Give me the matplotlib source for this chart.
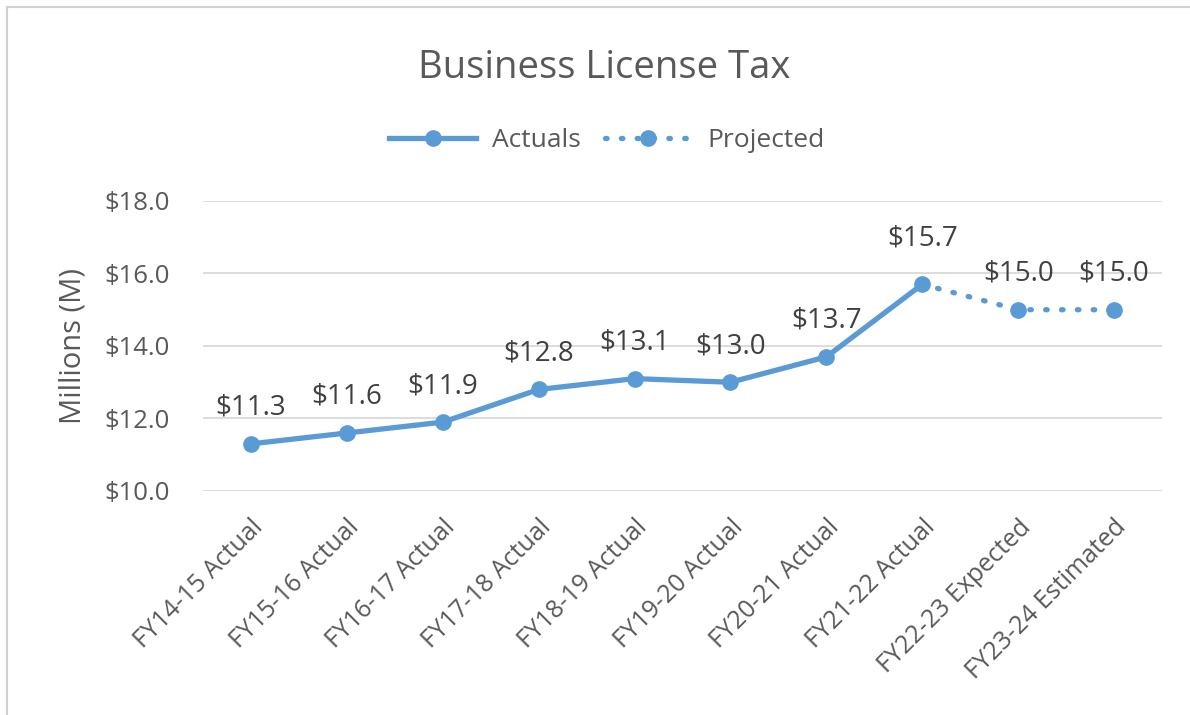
# Business License Tax line chart
import matplotlib.pyplot as plt
import matplotlib.patches as patches
from matplotlib.lines import Line2D

# Data
categories = ["FY14-15 Actual", "FY15-16 Actual", "FY16-17 Actual", "FY17-18 Actual",
              "FY18-19 Actual", "FY19-20 Actual", "FY20-21 Actual", "FY21-22 Actual",
              "FY22-23 Expected", "FY23-24 Estimated"]
actual_values = [11.3, 11.6, 11.9, 12.8, 13.1, 13.0, 13.7, 15.7]
projected_values = [15.7, 15.0, 15.0]
y_ticks = [10.0, 12.0, 14.0, 16.0, 18.0]

blue = "#5B9BD5"
gray = "#595959"
dots = (0, (0.3, 2.7))
plt.rcParams['font.family'] = ['Open Sans', 'DejaVu Sans']

fig = plt.figure(figsize=(11.9, 7.15), dpi=100)
ax = fig.add_axes([0.1706, 0.3133, 0.8059, 0.4056])

x_act = list(range(len(actual_values)))
x_proj = list(range(len(actual_values) - 1, len(categories)))

ax.plot(x_act, actual_values, color=blue, lw=3.8, marker='o', ms=11,
        solid_capstyle='round', zorder=3)
ax.plot(x_proj, projected_values, color=blue, lw=3.8, ls=dots,
        dash_capstyle='round', zorder=2)
ax.plot(x_proj[1:], projected_values[1:], color=blue, lw=0, marker='o', ms=11, zorder=3)

# Data labels
labels_x = x_act + x_proj[1:]
labels_y = actual_values + projected_values[1:]
for i, (xi, yi) in enumerate(zip(labels_x, labels_y)):
    off = 33 if i == 7 else 26
    ax.annotate("$%.1f" % yi, (xi, yi), xytext=(0, off), textcoords='offset points',
                ha='center', va='center', fontsize=20, color='#404040')

ax.set_xlim(-0.5, len(categories) - 0.5)
ax.set_ylim(10, 18)
ax.set_yticks(y_ticks)
ax.set_yticklabels(["$%.1f" % v for v in y_ticks], fontsize=18.5, color=gray)
ax.set_xticks(range(len(categories)))
ax.set_xticklabels(categories, rotation=45, ha='right', rotation_mode='anchor',
                   fontsize=18, color=gray)
ax.tick_params(axis='both', length=0)
ax.tick_params(axis='x', pad=17)
ax.tick_params(axis='y', pad=24)
ax.grid(axis='y', color='#D9D9D9', lw=1.3)
ax.set_axisbelow(True)
for s in ax.spines.values():
    s.set_visible(False)
ax.set_ylabel("Millions (M)", fontsize=21, color=gray, labelpad=12)

fig.suptitle("Business License Tax", x=0.508, y=0.905, va='center', fontsize=27.5, color=gray)

handles = [Line2D([], [], color=blue, lw=3.8, marker='o', ms=11),
           Line2D([], [], color=blue, lw=3.8, ls=dots,
                  dash_capstyle='round', marker='o', ms=11)]
fig.legend(handles, ["Actuals", "Projected"], loc='center', bbox_to_anchor=(0.51, 0.803),
           ncol=2, frameon=False, fontsize=19, labelcolor=gray, handlelength=3.3,
           columnspacing=0.9, handletextpad=0.6)

# outer chart border
border = patches.Rectangle((7 / 1190, -0.1), 1.2, 1 - 7 / 715 + 0.1, transform=fig.transFigure,
                           fill=False, edgecolor='#D0D0D0', lw=1.5)
fig.patches.append(border)

fig.savefig("out.png", dpi=100)
